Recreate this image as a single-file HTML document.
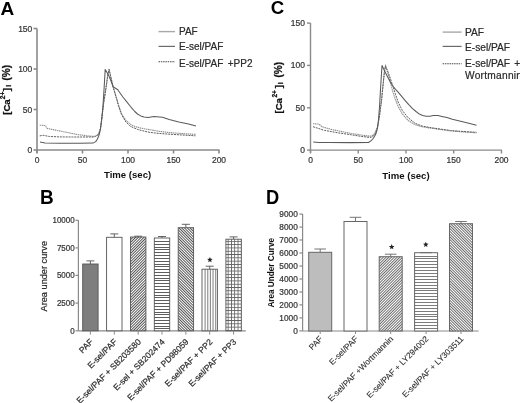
<!DOCTYPE html>
<html><head><meta charset="utf-8"><style>
html,body{margin:0;padding:0;background:#fff;}
svg{display:block;will-change:transform;}
text{font-family:"Liberation Sans", sans-serif;}
text{stroke:#3a3a3a;stroke-width:0.22px;}
g[style] text{stroke-width:inherit;}
text[font-weight="bold"]{stroke:none;}
</style></head><body>
<svg width="520" height="403" viewBox="0 0 520 403">
<defs>
<pattern id="hs" patternUnits="userSpaceOnUse" width="1.95" height="4" patternTransform="rotate(45)">
<rect width="1.95" height="4" fill="#fff"/><rect x="0" width="0.9" height="4" fill="#444"/></pattern>
<pattern id="hb" patternUnits="userSpaceOnUse" width="1.95" height="4" patternTransform="rotate(-45)">
<rect width="1.95" height="4" fill="#fff"/><rect x="0" width="0.9" height="4" fill="#444"/></pattern>
<pattern id="hs2" patternUnits="userSpaceOnUse" width="1.95" height="4" patternTransform="rotate(45)">
<rect width="1.95" height="4" fill="#fff"/><rect x="0" width="0.8" height="4" fill="#4a4a4a"/></pattern>
<pattern id="hb2" patternUnits="userSpaceOnUse" width="1.95" height="4" patternTransform="rotate(-45)">
<rect width="1.95" height="4" fill="#fff"/><rect x="0" width="0.8" height="4" fill="#4a4a4a"/></pattern>
<pattern id="hh" patternUnits="userSpaceOnUse" width="4" height="2.8">
<rect width="4" height="2.8" fill="#fff"/><rect y="0" width="4" height="1" fill="#555"/></pattern>
<pattern id="hv" patternUnits="userSpaceOnUse" width="2.7" height="4">
<rect width="2.7" height="4" fill="#fff"/><rect x="0" width="1" height="4" fill="#777"/></pattern>
<pattern id="hg" patternUnits="userSpaceOnUse" width="3.3" height="3.3">
<rect width="3.3" height="3.3" fill="#fff"/><rect width="3.3" height="0.85" fill="#606060"/><rect width="0.85" height="3.3" fill="#606060"/></pattern>
</defs>
<rect width="520" height="403" fill="#fff"/>

<text x="0.4" y="14.6" font-size="19" font-weight="bold" fill="#000">A</text>
<g stroke="#8a8a8a" stroke-width="1.6" fill="none">
<line x1="37" y1="28.5" x2="37" y2="153"/>
<line x1="36.2" y1="150" x2="219.5" y2="150"/>
<line x1="33.5" y1="28.5" x2="37" y2="28.5"/>
<line x1="33.5" y1="69" x2="37" y2="69"/>
<line x1="33.5" y1="109.5" x2="37" y2="109.5"/>
<line x1="33.5" y1="150" x2="37" y2="150"/>
<line x1="37" y1="150" x2="37" y2="153.5"/>
<line x1="82.5" y1="150" x2="82.5" y2="153.5"/>
<line x1="128" y1="150" x2="128" y2="153.5"/>
<line x1="173.5" y1="150" x2="173.5" y2="153.5"/>
<line x1="219" y1="150" x2="219" y2="153.5"/>
</g>
<g font-size="8.5" fill="#333" text-anchor="end">
<text transform="translate(32.3,31.60) scale(1,1.12)">150</text>
<text transform="translate(32.3,72.10) scale(1,1.12)">100</text>
<text transform="translate(32.3,112.60) scale(1,1.12)">50</text>
<text transform="translate(32.3,153.10) scale(1,1.12)">0</text>
</g>
<g font-size="8.5" fill="#333" text-anchor="middle">
<text transform="translate(37,162.5) scale(1,1.12)">0</text>
<text transform="translate(82.5,162.5) scale(1,1.12)">50</text>
<text transform="translate(128,162.5) scale(1,1.12)">100</text>
<text transform="translate(173.5,162.5) scale(1,1.12)">150</text>
<text transform="translate(219,162.5) scale(1,1.12)">200</text>
</g>
<text x="127.6" y="177.6" font-size="9.6" font-weight="bold" text-anchor="middle" fill="#111">Time (sec)</text>
<text transform="translate(10.3,0) rotate(-90)" font-size="9.6" font-weight="bold" fill="#111" style="stroke:#111;stroke-width:0.25px"><tspan x="-114.8" y="0">[Ca</tspan><tspan x="-99.2" y="-4.9" font-size="6.6">2+</tspan><tspan x="-91.3" y="0">]</tspan><tspan x="-86.7" y="0.9" font-size="7.2">i</tspan><tspan x="-80.6" y="0" font-size="10.08">(%)</tspan></text>
<polyline points="39.7,125.2 44.9,125.5 47.2,128.4 55.3,130.1 66.8,132.4 78.4,134.7 87.6,135.9 93.5,136.4 96.0,136.0 97.5,135.0 99.0,133.0 100.5,128.0 102.0,117.0 103.5,104.0 105.0,94.0 106.5,84.0 107.8,75.0 109.1,69.4 111.0,78.0 113.0,86.0 114.3,90.5 116.2,97.3 118.4,104.8 121.4,113.2 125.9,120.5 131.8,125.3 139.2,127.8 146.7,129.2 150.0,129.7 159.6,131.4 174.0,133.0 195.5,134.4" fill="none" stroke="#8f8f8f" stroke-width="1.1" stroke-dasharray="1.5 0.6"/>
<polyline points="39.7,135.9 43.2,135.3 49.5,136.5 60.0,136.9 72.6,137.0 93.4,137.0 95.5,136.4 97.5,135.2 99.0,133.0 100.5,128.5 102.0,117.0 103.5,104.0 105.0,95.0 106.5,85.0 107.8,75.0 109.1,69.4 111.0,78.0 113.0,87.0 114.9,93.0 116.7,99.0 118.4,105.5 121.4,114.5 125.9,122.0 130.3,126.3 137.8,129.5 145.2,131.4 150.0,132.4 159.6,133.5 174.0,134.5 195.5,135.8" fill="none" stroke="#5e5e5e" stroke-width="1" stroke-dasharray="2 0.9"/>
<polyline points="40.0,142.1 45.0,142.9 60.0,143.2 80.0,143.2 93.0,143.1 95.7,141.6 97.3,139.2 98.5,136.5 99.5,133.5 100.4,129.5 101.5,121.0 103.0,106.0 104.3,85.0 105.2,69.4 107.0,72.5 109.3,76.8 111.0,81.0 113.2,86.9 115.5,88.3 117.8,89.8 119.5,92.2 122.9,97.0 126.8,101.8 130.3,106.3 134.8,111.5 137.5,114.0 140.7,115.9 144.0,117.0 148.2,117.4 153.8,116.5 162.5,117.2 169.2,119.6 178.8,122.0 188.5,124.0 196.0,126.0" fill="none" stroke="#5a5a5a" stroke-width="1.05" stroke-linejoin="round"/>
<line x1="158.5" y1="31.6" x2="175" y2="31.6" stroke="#a8a8a8" stroke-width="1.4"/>
<line x1="158.5" y1="46.4" x2="175" y2="46.4" stroke="#6a6a6a" stroke-width="1.2"/>
<line x1="158.5" y1="61.8" x2="175" y2="61.8" stroke="#4a4a4a" stroke-width="1.1" stroke-dasharray="1.5 0.8"/>
<g font-size="10" fill="#222">
<text x="179" y="34.9">PAF</text>
<text x="179" y="49.7">E-sel/PAF</text>
<text x="179" y="66.6" word-spacing="1.7">E-sel/PAF +PP2</text>
</g>
<text x="270.8" y="14.2" font-size="18.6" font-weight="bold" fill="#000">C</text>
<g stroke="#8a8a8a" stroke-width="1.4" fill="none">
<line x1="310.5" y1="23.1" x2="310.5" y2="153"/>
<line x1="309.8" y1="150.1" x2="502" y2="150.1"/>
<line x1="307" y1="150.1" x2="310.5" y2="150.1"/>
<line x1="307" y1="107.8" x2="310.5" y2="107.8"/>
<line x1="307" y1="65.4" x2="310.5" y2="65.4"/>
<line x1="307" y1="23.1" x2="310.5" y2="23.1"/>
<line x1="310.5" y1="150.1" x2="310.5" y2="153.5"/>
<line x1="358.2" y1="150.1" x2="358.2" y2="153.5"/>
<line x1="406" y1="150.1" x2="406" y2="153.5"/>
<line x1="453.7" y1="150.1" x2="453.7" y2="153.5"/>
<line x1="501.5" y1="150.1" x2="501.5" y2="153.5"/>
</g>
<g font-size="8.5" fill="#333" text-anchor="end">
<text transform="translate(305,153.10) scale(1,1.12)">0</text>
<text transform="translate(305,110.80) scale(1,1.12)">50</text>
<text transform="translate(305,68.40) scale(1,1.12)">100</text>
<text transform="translate(305,26.10) scale(1,1.12)">150</text>
</g>
<g font-size="8.5" fill="#333" text-anchor="middle">
<text transform="translate(310.5,162.5) scale(1,1.12)">0</text>
<text transform="translate(358.2,162.5) scale(1,1.12)">50</text>
<text transform="translate(406,162.5) scale(1,1.12)">100</text>
<text transform="translate(453.7,162.5) scale(1,1.12)">150</text>
<text transform="translate(501.5,162.5) scale(1,1.12)">200</text>
</g>
<text x="406" y="178.8" font-size="9.6" font-weight="bold" text-anchor="middle" fill="#111">Time (sec)</text>
<text transform="translate(282.0,0) rotate(-90)" font-size="9.6" font-weight="bold" fill="#111" style="stroke:#111;stroke-width:0.25px"><tspan x="-113.5" y="0">[Ca</tspan><tspan x="-97.6" y="-4.9" font-size="6.6">2+</tspan><tspan x="-88.3" y="0">]</tspan><tspan x="-84.3" y="0.9" font-size="7.2">i</tspan><tspan x="-77.6" y="0" font-size="10.08">(%)</tspan></text>
<polyline points="313.0,123.7 319.1,124.1 321.8,126.7 331.2,129.4 351.4,133.5 365.0,135.6 370.2,136.2 373.0,135.3 375.0,133.0 377.5,127.0 379.5,115.0 381.5,100.0 383.0,85.0 384.3,72.0 385.5,65.9 387.5,72.0 389.9,80.0 392.5,90.7 395.3,99.2 398.1,106.3 402.4,114.1 408.0,120.4 415.1,124.7 422.2,126.8 430.0,128.0 440.0,129.5 450.6,130.9 463.0,131.9 476.5,132.8" fill="none" stroke="#8f8f8f" stroke-width="1.1" stroke-dasharray="1.5 0.6"/>
<polyline points="313.0,126.7 324.5,130.4 337.9,132.8 351.4,134.8 362.0,136.5 370.2,137.5 373.0,136.5 375.0,134.0 377.5,128.0 379.5,116.0 381.5,101.0 383.0,86.0 384.3,73.0 385.5,65.9 387.5,70.5 389.9,77.0 392.5,85.1 395.3,93.6 398.1,102.0 402.4,110.5 408.0,117.6 415.1,123.3 422.2,126.1 430.0,127.5 440.0,129.0 450.6,130.5 463.0,131.5 476.5,132.3" fill="none" stroke="#5e5e5e" stroke-width="1" stroke-dasharray="2 0.9"/>
<polyline points="313.2,142.0 319.0,142.5 330.0,142.6 350.0,142.6 368.5,142.5 370.9,140.9 372.8,139.0 374.3,136.8 375.8,134.0 377.0,130.1 378.3,122.0 379.5,107.0 380.7,86.0 382.0,65.6 385.1,71.9 388.2,78.0 390.5,82.5 393.2,86.5 395.5,89.3 398.1,92.1 401.5,96.2 405.2,100.6 408.8,104.7 412.3,108.4 416.0,111.5 419.4,114.1 422.5,115.4 426.4,116.2 430.0,116.2 433.3,115.4 438.0,115.6 441.9,116.5 447.0,117.6 452.3,119.3 462.7,121.7 469.7,123.5 476.5,125.3" fill="none" stroke="#5a5a5a" stroke-width="1.05" stroke-linejoin="round"/>
<line x1="442.6" y1="32.1" x2="461.6" y2="32.1" stroke="#a8a8a8" stroke-width="1.4"/>
<line x1="442.6" y1="46.4" x2="461.6" y2="46.4" stroke="#6a6a6a" stroke-width="1.2"/>
<line x1="442.6" y1="63.7" x2="461.6" y2="63.7" stroke="#4a4a4a" stroke-width="1.1" stroke-dasharray="1.5 0.8"/>
<g font-size="10.2" fill="#222">
<text x="465" y="35.8">PAF</text>
<text x="465" y="50.6">E-sel/PAF</text>
<text x="465" y="67.4" word-spacing="1.2">E-sel/PAF +</text>
<text x="465" y="79.2" letter-spacing="0.25">Wortmannin</text>
</g>
<text transform="translate(39.9,203.8) scale(1,1.075)" font-size="19" font-weight="bold" fill="#000">B</text>
<g stroke="#8a8a8a" stroke-width="1.2" fill="none">
<line x1="78.4" y1="220.3" x2="78.4" y2="330.8"/>
<line x1="78.4" y1="330.8" x2="245.8" y2="330.8"/>
<line x1="75.5" y1="330.8" x2="78.4" y2="330.8"/>
<line x1="75.5" y1="303.1" x2="78.4" y2="303.1"/>
<line x1="75.5" y1="275.4" x2="78.4" y2="275.4"/>
<line x1="75.5" y1="247.9" x2="78.4" y2="247.9"/>
<line x1="75.5" y1="220.3" x2="78.4" y2="220.3"/>
</g>
<g font-size="8.0" fill="#333" text-anchor="end">
<text transform="translate(74.7,333.80) scale(1,1.12)">0</text>
<text transform="translate(74.7,306.10) scale(1,1.12)">2500</text>
<text transform="translate(74.7,278.40) scale(1,1.12)">5000</text>
<text transform="translate(74.7,250.90) scale(1,1.12)">7500</text>
<text transform="translate(74.7,223.30) scale(1,1.12)">10000</text>
</g>
<text transform="translate(47.4,276.2) rotate(-90)" font-size="9.2" text-anchor="middle" fill="#222">Area under curve</text>
<rect x="82.7" y="264" width="15.4" height="66.8" fill="#7e7e7e" stroke="#555" stroke-width="0.9"/>
<g stroke="#555" stroke-width="0.9"><line x1="90.4" y1="260.9" x2="90.4" y2="264"/><line x1="86.4" y1="260.9" x2="94.4" y2="260.9"/></g>
<line x1="90.4" y1="330.8" x2="90.4" y2="334.6" stroke="#8a8a8a" stroke-width="1"/>
<rect x="106.6" y="237.3" width="15.4" height="93.5" fill="#fff" stroke="#555" stroke-width="0.9"/>
<g stroke="#555" stroke-width="0.9"><line x1="114.3" y1="233.9" x2="114.3" y2="237.3"/><line x1="110.3" y1="233.9" x2="118.3" y2="233.9"/></g>
<line x1="114.3" y1="330.8" x2="114.3" y2="334.6" stroke="#8a8a8a" stroke-width="1"/>
<rect x="130.5" y="237" width="15.4" height="93.8" fill="url(#hs)" stroke="#555" stroke-width="0.9"/>
<g stroke="#555" stroke-width="0.9"><line x1="138.15" y1="236.2" x2="138.15" y2="237"/><line x1="134.15" y1="236.2" x2="142.15" y2="236.2"/></g>
<line x1="138.15" y1="330.8" x2="138.15" y2="334.6" stroke="#8a8a8a" stroke-width="1"/>
<rect x="154.3" y="238" width="15.4" height="92.8" fill="#fff"/>
<g stroke="#5e5e5e" stroke-width="1"><line x1="154.3" y1="241.5" x2="169.7" y2="241.5"/><line x1="154.3" y1="244.5" x2="169.7" y2="244.5"/><line x1="154.3" y1="247.5" x2="169.7" y2="247.5"/><line x1="154.3" y1="249.5" x2="169.7" y2="249.5"/><line x1="154.3" y1="252.5" x2="169.7" y2="252.5"/><line x1="154.3" y1="255.5" x2="169.7" y2="255.5"/><line x1="154.3" y1="258.5" x2="169.7" y2="258.5"/><line x1="154.3" y1="261.5" x2="169.7" y2="261.5"/><line x1="154.3" y1="264.5" x2="169.7" y2="264.5"/><line x1="154.3" y1="266.5" x2="169.7" y2="266.5"/><line x1="154.3" y1="269.5" x2="169.7" y2="269.5"/><line x1="154.3" y1="272.5" x2="169.7" y2="272.5"/><line x1="154.3" y1="275.5" x2="169.7" y2="275.5"/><line x1="154.3" y1="278.5" x2="169.7" y2="278.5"/><line x1="154.3" y1="280.5" x2="169.7" y2="280.5"/><line x1="154.3" y1="283.5" x2="169.7" y2="283.5"/><line x1="154.3" y1="286.5" x2="169.7" y2="286.5"/><line x1="154.3" y1="289.5" x2="169.7" y2="289.5"/><line x1="154.3" y1="292.5" x2="169.7" y2="292.5"/><line x1="154.3" y1="295.5" x2="169.7" y2="295.5"/><line x1="154.3" y1="297.5" x2="169.7" y2="297.5"/><line x1="154.3" y1="300.5" x2="169.7" y2="300.5"/><line x1="154.3" y1="303.5" x2="169.7" y2="303.5"/><line x1="154.3" y1="306.5" x2="169.7" y2="306.5"/><line x1="154.3" y1="309.5" x2="169.7" y2="309.5"/><line x1="154.3" y1="312.5" x2="169.7" y2="312.5"/><line x1="154.3" y1="314.5" x2="169.7" y2="314.5"/><line x1="154.3" y1="317.5" x2="169.7" y2="317.5"/><line x1="154.3" y1="320.5" x2="169.7" y2="320.5"/><line x1="154.3" y1="323.5" x2="169.7" y2="323.5"/><line x1="154.3" y1="326.5" x2="169.7" y2="326.5"/><line x1="154.3" y1="328.5" x2="169.7" y2="328.5"/></g>
<rect x="154.3" y="238" width="15.4" height="92.8" fill="none" stroke="#555" stroke-width="0.9"/>
<g stroke="#555" stroke-width="0.9"><line x1="162.0" y1="236.5" x2="162.0" y2="238"/><line x1="158.0" y1="236.5" x2="166.0" y2="236.5"/></g>
<line x1="162.0" y1="330.8" x2="162.0" y2="334.6" stroke="#8a8a8a" stroke-width="1"/>
<rect x="178.2" y="227.7" width="15.4" height="103.1" fill="url(#hb)" stroke="#555" stroke-width="0.9"/>
<g stroke="#555" stroke-width="0.9"><line x1="185.85" y1="224.3" x2="185.85" y2="227.7"/><line x1="181.85" y1="224.3" x2="189.85" y2="224.3"/></g>
<line x1="185.85" y1="330.8" x2="185.85" y2="334.6" stroke="#8a8a8a" stroke-width="1"/>
<rect x="202.0" y="269.2" width="15.4" height="61.6" fill="#fff"/>
<g stroke="#8a8a8a" stroke-width="1.1"><line x1="205.1" y1="269.2" x2="205.1" y2="330.8"/><line x1="207.75" y1="269.2" x2="207.75" y2="330.8"/><line x1="210.4" y1="269.2" x2="210.4" y2="330.8"/><line x1="213.04999999999998" y1="269.2" x2="213.04999999999998" y2="330.8"/><line x1="215.7" y1="269.2" x2="215.7" y2="330.8"/></g>
<rect x="202.0" y="269.2" width="15.4" height="61.6" fill="none" stroke="#555" stroke-width="0.9"/>
<g stroke="#555" stroke-width="0.9"><line x1="209.7" y1="266.2" x2="209.7" y2="269.2"/><line x1="205.7" y1="266.2" x2="213.7" y2="266.2"/></g>
<line x1="209.7" y1="330.8" x2="209.7" y2="334.6" stroke="#8a8a8a" stroke-width="1"/>
<rect x="225.9" y="239.2" width="15.4" height="91.6" fill="url(#hg)" stroke="#555" stroke-width="0.9"/>
<g stroke="#555" stroke-width="0.9"><line x1="233.6" y1="236.9" x2="233.6" y2="239.2"/><line x1="229.6" y1="236.9" x2="237.6" y2="236.9"/></g>
<line x1="233.6" y1="330.8" x2="233.6" y2="334.6" stroke="#8a8a8a" stroke-width="1"/>
<polygon points="209.9,257.0 210.7,258.8 212.7,259.0 211.1,260.3 211.6,262.2 209.9,261.2 208.2,262.2 208.7,260.3 207.1,259.0 209.1,258.8" fill="#222"/>
<g font-size="8.5" fill="#222" text-anchor="end">
<text transform="translate(93.7,342.4) rotate(-45)">PAF</text>
<text transform="translate(117.6,342.4) rotate(-45)">E-sel/PAF</text>
<text transform="translate(141.5,342.4) rotate(-45)">E-sel/PAF + SB203580</text>
<text transform="translate(165.3,342.4) rotate(-45)">E-sel + SB202474</text>
<text transform="translate(189.2,342.4) rotate(-45)">E-sel/PAF + PD98059</text>
<text transform="translate(213.0,342.4) rotate(-45)">E-sel/PAF + PP2</text>
<text transform="translate(236.9,342.4) rotate(-45)">E-sel/PAF + PP3</text>
</g>
<text transform="translate(265.9,203.8) scale(1,1.07)" font-size="18.3" font-weight="bold" fill="#000">D</text>
<g stroke="#8a8a8a" stroke-width="1.2" fill="none">
<line x1="302.6" y1="214.1" x2="302.6" y2="331"/>
<line x1="302.6" y1="331" x2="478.7" y2="331"/>
<line x1="299.4" y1="330.9" x2="302.6" y2="330.9"/>
<line x1="299.4" y1="317.9" x2="302.6" y2="317.9"/>
<line x1="299.4" y1="304.9" x2="302.6" y2="304.9"/>
<line x1="299.4" y1="292.0" x2="302.6" y2="292.0"/>
<line x1="299.4" y1="279.0" x2="302.6" y2="279.0"/>
<line x1="299.4" y1="266.0" x2="302.6" y2="266.0"/>
<line x1="299.4" y1="253.0" x2="302.6" y2="253.0"/>
<line x1="299.4" y1="240.0" x2="302.6" y2="240.0"/>
<line x1="299.4" y1="227.1" x2="302.6" y2="227.1"/>
<line x1="299.4" y1="214.1" x2="302.6" y2="214.1"/>
</g>
<g font-size="8.3" fill="#333" text-anchor="end">
<text transform="translate(297.8,333.80) scale(1,1.12)">0</text>
<text transform="translate(297.8,320.82) scale(1,1.12)">1000</text>
<text transform="translate(297.8,307.84) scale(1,1.12)">2000</text>
<text transform="translate(297.8,294.86) scale(1,1.12)">3000</text>
<text transform="translate(297.8,281.88) scale(1,1.12)">4000</text>
<text transform="translate(297.8,268.90) scale(1,1.12)">5000</text>
<text transform="translate(297.8,255.92) scale(1,1.12)">6000</text>
<text transform="translate(297.8,242.94) scale(1,1.12)">7000</text>
<text transform="translate(297.8,229.96) scale(1,1.12)">8000</text>
<text transform="translate(297.8,216.98) scale(1,1.12)">9000</text>
</g>
<text transform="translate(273.6,272.8) rotate(-90)" font-size="8.2" font-weight="bold" text-anchor="middle" fill="#111">Area Under Curve</text>
<rect x="308.7" y="252.3" width="23" height="78.7" fill="#bdbdbd" stroke="#666" stroke-width="1"/>
<g stroke="#666" stroke-width="0.9"><line x1="320.2" y1="249" x2="320.2" y2="252.3"/><line x1="314.4" y1="249" x2="326.0" y2="249"/></g>
<line x1="320.2" y1="331" x2="320.2" y2="334" stroke="#8a8a8a" stroke-width="1"/>
<rect x="344.0" y="221.5" width="23" height="109.5" fill="#fff" stroke="#666" stroke-width="1"/>
<g stroke="#666" stroke-width="0.9"><line x1="355.5" y1="217.3" x2="355.5" y2="221.5"/><line x1="349.7" y1="217.3" x2="361.3" y2="217.3"/></g>
<line x1="355.5" y1="331" x2="355.5" y2="334" stroke="#8a8a8a" stroke-width="1"/>
<rect x="379.2" y="256.7" width="23" height="74.3" fill="url(#hs2)" stroke="#666" stroke-width="1"/>
<g stroke="#666" stroke-width="0.9"><line x1="390.7" y1="254.2" x2="390.7" y2="256.7"/><line x1="384.9" y1="254.2" x2="396.5" y2="254.2"/></g>
<line x1="390.7" y1="331" x2="390.7" y2="334" stroke="#8a8a8a" stroke-width="1"/>
<rect x="414.6" y="252.7" width="23" height="78.3" fill="#fff"/>
<g stroke="#7c7c7c" stroke-width="1"><line x1="414.6" y1="256.5" x2="437.6" y2="256.5"/><line x1="414.6" y1="258.5" x2="437.6" y2="258.5"/><line x1="414.6" y1="261.5" x2="437.6" y2="261.5"/><line x1="414.6" y1="264.5" x2="437.6" y2="264.5"/><line x1="414.6" y1="267.5" x2="437.6" y2="267.5"/><line x1="414.6" y1="270.5" x2="437.6" y2="270.5"/><line x1="414.6" y1="273.5" x2="437.6" y2="273.5"/><line x1="414.6" y1="276.5" x2="437.6" y2="276.5"/><line x1="414.6" y1="279.5" x2="437.6" y2="279.5"/><line x1="414.6" y1="282.5" x2="437.6" y2="282.5"/><line x1="414.6" y1="285.5" x2="437.6" y2="285.5"/><line x1="414.6" y1="288.5" x2="437.6" y2="288.5"/><line x1="414.6" y1="290.5" x2="437.6" y2="290.5"/><line x1="414.6" y1="293.5" x2="437.6" y2="293.5"/><line x1="414.6" y1="296.5" x2="437.6" y2="296.5"/><line x1="414.6" y1="299.5" x2="437.6" y2="299.5"/><line x1="414.6" y1="302.5" x2="437.6" y2="302.5"/><line x1="414.6" y1="305.5" x2="437.6" y2="305.5"/><line x1="414.6" y1="308.5" x2="437.6" y2="308.5"/><line x1="414.6" y1="311.5" x2="437.6" y2="311.5"/><line x1="414.6" y1="314.5" x2="437.6" y2="314.5"/><line x1="414.6" y1="316.5" x2="437.6" y2="316.5"/><line x1="414.6" y1="319.5" x2="437.6" y2="319.5"/><line x1="414.6" y1="322.5" x2="437.6" y2="322.5"/><line x1="414.6" y1="325.5" x2="437.6" y2="325.5"/><line x1="414.6" y1="328.5" x2="437.6" y2="328.5"/></g>
<rect x="414.6" y="252.7" width="23" height="78.3" fill="none" stroke="#666" stroke-width="1"/>
<g stroke="#666" stroke-width="0.9"><line x1="426.1" y1="252.7" x2="426.1" y2="252.7"/><line x1="420.3" y1="252.7" x2="431.90000000000003" y2="252.7"/></g>
<line x1="426.1" y1="331" x2="426.1" y2="334" stroke="#8a8a8a" stroke-width="1"/>
<rect x="449.5" y="223.7" width="23" height="107.3" fill="url(#hb2)" stroke="#666" stroke-width="1"/>
<g stroke="#666" stroke-width="0.9"><line x1="461" y1="221.5" x2="461" y2="223.7"/><line x1="455.2" y1="221.5" x2="466.8" y2="221.5"/></g>
<line x1="461" y1="331" x2="461" y2="334" stroke="#8a8a8a" stroke-width="1"/>
<polygon points="391.7,244.1 392.5,245.9 394.5,246.1 392.9,247.4 393.4,249.3 391.7,248.3 390.0,249.3 390.5,247.4 388.9,246.1 390.9,245.9" fill="#222"/>
<polygon points="425.8,241.8 426.6,243.6 428.6,243.8 427.0,245.1 427.5,247.0 425.8,246.0 424.1,247.0 424.6,245.1 423.0,243.8 425.0,243.6" fill="#222"/>
<g font-size="8.3" fill="#2a2a2a" text-anchor="end" style="stroke-width:0.1px">
<text transform="translate(323.2,339.5) rotate(-45)">PAF</text>
<text transform="translate(358.5,339.5) rotate(-45)">E-sel/PAF</text>
<text transform="translate(393.7,339.5) rotate(-45)">E-sel/PAF +Wortmannin</text>
<text transform="translate(429.1,339.5) rotate(-45)">E-sel/PAF + LY294002</text>
<text transform="translate(464.0,339.5) rotate(-45)">E-sel/PAF + LY303511</text>
</g>
</svg></body></html>
